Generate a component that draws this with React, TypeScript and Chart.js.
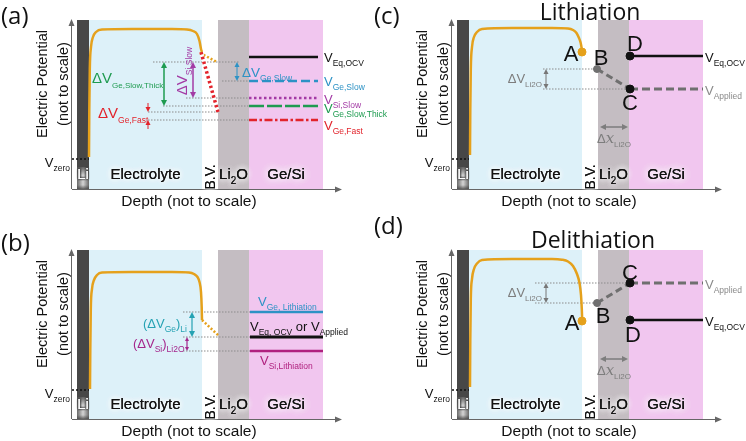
import React, { useEffect, useRef } from 'react';
import { Chart, registerables } from 'chart.js';
Chart.register(...registerables);

const SANS = '"Liberation Sans", Arial, Helvetica, sans-serif';
const OPEN = '"Open Sans", "Liberation Sans", sans-serif';
const ORANGE = '#e5a11c';
const REF = '#8c8c8c';
const BLACK = '#111111';
const GREEN = '#1e9b50';
const BLUE = '#2d92c5';
const PURPLE = '#a33ba5';
const RED = '#e2232b';
const TEAL = '#25a2b3';
const MAGENTA = '#a4268c';

// ---- layers (depth units) ----
const layerLabels = ['Li', 'Electrolyte', 'B.V.', 'Li2O', 'Ge/Si'];
const layerEdges = [5, 17, 130, 146, 177, 251];
const layerColors = ['#474747', '#ddf1f9', '#ffffff', '#c4bdc2', '#f1c6ef'];
const X_MAX = 270;
const Y_MAX = 169;
const vZero = [30, 29, 30, 29];

// ---- orange potential curves ----
const curveAX = [17, 17.3, 17.8, 19, 21, 24, 30, 60, 100, 115, 121, 125, 127.5, 129, 130];
const curveAY = [32, 80, 120, 142, 152, 157, 159.5, 160, 160, 159.5, 158, 155, 148, 140, 137];
const curveBX = [18, 18.3, 18.8, 20, 22, 25, 30, 60, 100, 117, 122, 125.5, 127.5, 129, 129.7, 130];
const curveBY = [30, 70, 110, 130, 139, 144, 146.5, 147, 147, 146.5, 145, 142, 137, 127, 112, 99];
const curveCX = [18, 18.3, 18.8, 20, 22, 25, 30, 60, 100, 116, 121, 124.5, 127, 128.7, 129.6, 130];
const curveCY = [34, 80, 120, 142, 152, 157, 160, 161, 161, 160.5, 159, 156, 151, 146, 141, 137];
const curveDX = [18, 18.3, 18.8, 20, 22, 25, 30, 60, 100, 110, 116, 121, 125, 127.5, 129, 129.8, 130.2];
const curveDY = [32, 80, 120, 140, 150, 155.5, 159, 160, 160, 159.3, 157.5, 153, 145, 136, 124, 110, 99];

// ---- panel (a) ----
const aLevelNames = ['Eq,OCV', 'Ge,Slow', 'Si,Slow', 'Ge,Slow,Thick', 'Ge,Fast'];
const aLevelValues = [132, 108, 91, 83, 69];
const aLevelSpan = [177, 246];
const aRefValues = [127, 108, 91, 83, 77, 69];
const aRefStart = [81, 150, 114, 91, 76, 76];
const aRefEnd = [168, 177, 177, 177, 146, 177];
const aOrangeX = [128, 145];
const aOrangeY = [136, 127];
const aRedX = [129, 146];
const aRedY = [137, 77];
const aGapX = [92, 121, 165];
const aGapTop = [127, 127, 127];
const aGapBottom = [83, 91, 108];
const aFastX = 76;
const aFastTop = 77;
const aFastBottom = 69;

// ---- panel (b) ----
const bLevelNames = ['Ge, Lithiation', 'Eq, OCV', 'Si,Lithiation'];
const bLevelValues = [107, 82, 68];
const bLevelSpan = [178, 251];
const bRefStart = 111;
const bOrangeX = [130, 147];
const bOrangeY = [99, 83];
const bGapX = [120, 115];
const bGapTop = [107, 82];
const bGapBottom = [82, 68];

// ---- panels (c) and (d) ----
const pointNames = ['A', 'B', 'C', 'D'];
const cPointX = [130, 145, 178, 178];
const cPointY = [137, 120, 100, 133];
const dPointX = [130, 145, 178, 178];
const dPointY = [98, 116, 136, 99];
const levelSpanCD = [178, 251];
const refStartC = 91;
const refStartD = 83;
const dvArrowX = 94;
const dxSpan = [148, 176];
const dxLevelC = 62;
const dxLevelD = 60;

type Seg = [string, number];
type Opts = { sub?: number; glow?: number; glowColor?: string; family?: string };

function rich(ctx: CanvasRenderingContext2D, segs: Seg[], x: number, y: number, size: number, color: string, align: 'left' | 'center' | 'right' = 'left', o: Opts = {}) {
  const sub = o.sub ?? Math.round(size * 0.62);
  const fam = o.family ?? SANS;
  const font = (k: number) => (k === 1 ? `${sub}px ${fam}` : k === 2 ? `italic ${size * 1.15}px "DejaVu Serif", "Liberation Serif", serif` : `${size}px ${fam}`);
  ctx.save();
  const w = segs.map(([t, k]) => { ctx.font = font(k); return ctx.measureText(t).width; });
  const total = w.reduce((a, b) => a + b, 0);
  let cx = align === 'left' ? x : align === 'center' ? x - total / 2 : x - total;
  const base = y + size * 0.36;
  ctx.fillStyle = color;
  ctx.textAlign = 'left';
  ctx.textBaseline = 'alphabetic';
  const passes = o.glow ? 3 : 1;
  if (o.glow) { ctx.shadowColor = o.glowColor ?? '#ffffff'; ctx.shadowBlur = o.glow; }
  segs.forEach(([t, k], i) => {
    ctx.font = font(k);
    const dy = k === 1 ? size * 0.32 : 0;
    for (let p = 0; p < passes; p++) ctx.fillText(t, cx, base + dy);
    cx += w[i];
  });
  ctx.restore();
}

function richRot(ctx: CanvasRenderingContext2D, segs: Seg[], x: number, y: number, size: number, color: string, o: Opts = {}) {
  ctx.save();
  ctx.translate(x, y);
  ctx.rotate(-Math.PI / 2);
  rich(ctx, segs, 0, 0, size, color, 'center', o);
  ctx.restore();
}

function arrow(ctx: CanvasRenderingContext2D, x1: number, y1: number, x2: number, y2: number, color: string, lw: number, head: number, both = true) {
  ctx.save();
  ctx.strokeStyle = color;
  ctx.fillStyle = color;
  ctx.lineWidth = lw;
  const a = Math.atan2(y2 - y1, x2 - x1);
  const c = Math.cos(a), s = Math.sin(a);
  ctx.beginPath();
  ctx.moveTo(x1 + (both ? c * head * 0.7 : 0), y1 + (both ? s * head * 0.7 : 0));
  ctx.lineTo(x2 - c * head * 0.7, y2 - s * head * 0.7);
  ctx.stroke();
  const tri = (x: number, y: number, cc: number, ss: number) => {
    ctx.beginPath();
    ctx.moveTo(x, y);
    ctx.lineTo(x - head * cc + head * 0.5 * ss, y - head * ss - head * 0.5 * cc);
    ctx.lineTo(x - head * cc - head * 0.5 * ss, y - head * ss + head * 0.5 * cc);
    ctx.closePath();
    ctx.fill();
  };
  tri(x2, y2, c, s);
  if (both) tri(x1, y1, -c, -s);
  ctx.restore();
}

const line = (xs: number[], ys: number[], color: string, width: number, dash: number[] = []) => ({
  data: xs.map((x, i) => ({ x, y: ys[i] })),
  borderColor: color,
  backgroundColor: color,
  borderWidth: width,
  borderDash: dash,
  borderCapStyle: 'butt',
  pointRadius: 0,
  fill: false,
  tension: 0,
});
const curve = (xs: number[], ys: number[]) => ({ ...line(xs, ys, ORANGE, 2.5), cubicInterpolationMode: 'monotone' });
const dot = (x: number, y: number, color: string, r: number) => ({
  data: [{ x, y }],
  showLine: false,
  pointRadius: r,
  pointBackgroundColor: color,
  pointBorderColor: color,
  borderColor: color,
  backgroundColor: color,
});

type XY = (v: number) => number;
interface Spec {
  left: number; top: number; w: number; h: number;
  pad: { left: number; top: number; right: number; bottom: number };
  letter: string; letterY: number;
  title?: string; titleX?: number; titleY?: number;
  vzero: number;
  datasets: any[];
  draw: (ctx: CanvasRenderingContext2D, X: XY, Y: XY) => void;
}

const vLabel = (ctx: CanvasRenderingContext2D, sub: string, x: number, y: number, color: string) =>
  rich(ctx, [['V', 0], [sub, 1]], x, y, 13, color, 'left', { sub: 8.5 });

function specA(): Spec {
  const ds: any[] = [];
  aRefValues.forEach((v, i) => ds.push(line([aRefStart[i], aRefEnd[i]], [v, v], REF, 1.2, [1.5, 1.5])));
  ds.push(line(aOrangeX, aOrangeY, ORANGE, 2.5, [2, 2]));
  ds.push(line(aRedX, aRedY, '#ffffff', 3.5));
  ds.push(line(aRedX, aRedY, RED, 3.5, [2.5, 2.5]));
  ds.push(curve(curveAX, curveAY));
  const cols = [BLACK, BLUE, PURPLE, GREEN, RED];
  const dashes = [[], [9, 4], [2.5, 2.5], [15, 3], [8, 2.5, 2.5, 2.5]];
  aLevelValues.forEach((v, i) => ds.push(line(aLevelSpan, [v, v], cols[i], 2.5, dashes[i])));
  ds.push(line([0, layerEdges[1]], [vZero[0], vZero[0]], BLACK, 1.5, [2, 2]));
  const labelY = [132, 108, 90, 81, 64];
  return {
    left: 0, top: 0, w: 420, h: 220,
    pad: { left: 72, top: 20, right: 78, bottom: 31 },
    letter: '(a)', letterY: 15, vzero: vZero[0], datasets: ds,
    draw: (ctx, X, Y) => {
      aLevelNames.forEach((n, i) => vLabel(ctx, n, X(252), Y(labelY[i]), cols[i]));
      const gc = [GREEN, PURPLE, BLUE];
      aGapX.forEach((x, i) => arrow(ctx, X(x), Y(aGapTop[i]), X(x), Y(aGapBottom[i]), gc[i], i === 2 ? 1 : 1.5, i === 2 ? 5 : 6));
      arrow(ctx, X(aFastX), Y(aFastTop + 9), X(aFastX), Y(aFastTop), RED, 1, 5, false);
      arrow(ctx, X(aFastX), Y(aFastBottom - 9), X(aFastX), Y(aFastBottom), RED, 1, 5, false);
      rich(ctx, [['ΔV', 0], ['Ge,Slow,Thick', 1]], X(20), Y(111), 15, GREEN, 'left', { sub: 8 });
      rich(ctx, [['ΔV', 0], ['Ge,Fast', 1]], X(26), Y(76), 15, RED, 'left', { sub: 8.5 });
      richRot(ctx, [['ΔV', 0], ['Si,Slow', 1]], X(110), Y(118), 15, PURPLE, { sub: 8.5 });
      rich(ctx, [['ΔV', 0], ['Ge,Slow', 1]], X(170), Y(117), 13.5, BLUE, 'left', { sub: 8.5 });
    },
  };
}

function specB(): Spec {
  const ds: any[] = [];
  bLevelValues.forEach((v) => ds.push(line([bRefStart, bLevelSpan[0]], [v, v], REF, 1.2, [1.5, 1.5])));
  ds.push(line(bOrangeX, bOrangeY, ORANGE, 2.5, [2, 2]));
  ds.push(curve(curveBX, curveBY));
  const cols = [BLUE, BLACK, '#b0217f'];
  bLevelValues.forEach((v, i) => ds.push(line(bLevelSpan, [v, v], cols[i], i === 1 ? 3 : 2.5)));
  ds.push(line([0, layerEdges[1]], [vZero[1], vZero[1]], BLACK, 1.5, [2, 2]));
  return {
    left: 0, top: 220, w: 420, h: 221,
    pad: { left: 72, top: 30, right: 78, bottom: 22 },
    letter: '(b)', letterY: 22, vzero: vZero[1], datasets: ds,
    draw: (ctx, X, Y) => {
      rich(ctx, [['V', 0], [bLevelNames[0], 1]], X(186), Y(117.5), 13, BLUE, 'left', { sub: 8.5 });
      rich(ctx, [['V', 0], [bLevelNames[1], 1], [' or ', 0], ['V', 0], ['Applied', 1]], X(178), Y(93), 13, BLACK, 'left', { sub: 8.5 });
      rich(ctx, [['V', 0], [bLevelNames[2], 1]], X(188), Y(59), 13, '#b0217f', 'left', { sub: 8.5 });
      rich(ctx, [['(ΔV', 0], ['Ge', 1], [')', 0], ['Li', 1]], X(71), Y(96), 13, TEAL, 'left', { sub: 8.5 });
      rich(ctx, [['(ΔV', 0], ['Si', 1], [')', 0], ['Li2O', 1]], X(61), Y(76), 13, MAGENTA, 'left', { sub: 8.5 });
      arrow(ctx, X(bGapX[0]), Y(bGapTop[0]), X(bGapX[0]), Y(bGapBottom[0]), TEAL, 1.2, 6);
      arrow(ctx, X(bGapX[1]), Y(bGapTop[1]), X(bGapX[1]), Y(bGapBottom[1]), MAGENTA, 1.2, 4);
    },
  };
}

function specCD(which: 'c' | 'd'): Spec {
  const isC = which === 'c';
  const px = isC ? cPointX : dPointX;
  const py = isC ? cPointY : dPointY;
  const vz = isC ? vZero[2] : vZero[3];
  const applied = py[2];
  const eq = py[3];
  const refStart = isC ? refStartC : refStartD;
  const ds: any[] = [];
  ds.push(line([refStart, px[1]], [py[1], py[1]], REF, 1.2, [1.5, 1.5]));
  ds.push(line([refStart, px[2]], [applied, applied], REF, 1.2, [1.5, 1.5]));
  ds.push(curve(isC ? curveCX : curveDX, isC ? curveCY : curveDY));
  ds.push(line([px[1], px[2]], [py[1], py[2]], '#6f6f6f', 3, [7, 4]));
  ds.push(line(levelSpanCD, [applied, applied], '#6f6f6f', 3, [8, 4]));
  ds.push(line(levelSpanCD, [eq, eq], BLACK, 2.5));
  ds.push(dot(px[0], py[0], ORANGE, 4));
  ds.push(dot(px[1], py[1], '#6f6f6f', 3.5));
  ds.push(dot(px[2], py[2], BLACK, 4));
  ds.push(dot(px[3], py[3], BLACK, 4));
  ds.push(line([0, layerEdges[1]], [vz, vz], BLACK, 1.5, [2, 2]));
  const labelPos = isC
    ? [[119, 136], [149, 132], [178, 87], [183, 146]]
    : [[120, 97], [151, 104], [178, 147], [181, 85]];
  const dvTextY = isC ? 111 : 127;
  const dxY = isC ? dxLevelC : dxLevelD;
  return {
    left: 373, top: isC ? 0 : 210, w: 373, h: isC ? 220 : 231,
    pad: { left: 79, top: isC ? 20 : 40, right: 24, bottom: isC ? 31 : 22 },
    letter: isC ? '(c)' : '(d)', letterY: 15,
    title: isC ? 'Lithiation' : 'Delithiation', titleX: isC ? 217 : 220, titleY: isC ? 12 : 30,
    vzero: vz, datasets: ds,
    draw: (ctx, X, Y) => {
      pointNames.forEach((n, i) => rich(ctx, [[n, 0]], X(labelPos[i][0]), Y(labelPos[i][1]), 22, BLACK, 'center'));
      vLabel(ctx, 'Eq,OCV', X(253), Y(eq - 1), BLACK);
      vLabel(ctx, 'Applied', X(253), Y(applied - 1), '#8a8a8a');
      arrow(ctx, X(dvArrowX), Y(py[1]), X(dvArrowX), Y(applied), '#777777', 1, 5);
      rich(ctx, [['ΔV', 0], ['Li2O', 1]], X(90), Y(dvTextY), 13, '#7d7d7d', 'right', { sub: 8 });
      arrow(ctx, X(dxSpan[0]), Y(dxY), X(dxSpan[1]), Y(dxY), '#7d7d7d', 1.5, 6);
      rich(ctx, [['Δ', 0], ['x', 2], ['Li2O', 1]], X(162), Y(dxY - 11), 13, '#7d7d7d', 'center', { sub: 8 });
    },
  };
}

const SPECS: Spec[] = [specA(), specB(), specCD('c'), specCD('d')];

function build(canvas: HTMLCanvasElement, spec: Spec) {
  const scene = {
    id: 'scene',
    beforeDatasetsDraw(chart: any) {
      const { ctx } = chart;
      const X: XY = (v) => chart.scales.x.getPixelForValue(v);
      const Y: XY = (v) => chart.scales.y.getPixelForValue(v);
      ctx.save();
      for (let i = 0; i < layerLabels.length; i++) {
        ctx.fillStyle = layerColors[i];
        ctx.fillRect(X(layerEdges[i]), Y(Y_MAX), X(layerEdges[i + 1]) - X(layerEdges[i]), Y(0) - Y(Y_MAX));
      }
      // lighter cylindrical shading at the bottom of the Li electrode
      const lx0 = X(layerEdges[0]), lx1 = X(layerEdges[1]);
      const hg = ctx.createLinearGradient(lx0, 0, lx1, 0);
      hg.addColorStop(0, '#6a6a6a');
      hg.addColorStop(0.5, '#d4d4d4');
      hg.addColorStop(1, '#6a6a6a');
      ctx.fillStyle = hg;
      ctx.fillRect(lx0, Y(22), lx1 - lx0, Y(0) - Y(22));
      const vg = ctx.createLinearGradient(0, Y(24), 0, Y(14));
      vg.addColorStop(0, 'rgba(71,71,71,1)');
      vg.addColorStop(1, 'rgba(71,71,71,0)');
      ctx.fillStyle = vg;
      ctx.fillRect(lx0, Y(24), lx1 - lx0, Y(14) - Y(24));
      const bg = ctx.createLinearGradient(0, Y(4), 0, Y(0));
      bg.addColorStop(0, 'rgba(71,71,71,0)');
      bg.addColorStop(1, 'rgba(71,71,71,0.8)');
      ctx.fillStyle = bg;
      ctx.fillRect(lx0, Y(4), lx1 - lx0, Y(0) - Y(4));
      // axes
      ctx.strokeStyle = '#666';
      ctx.fillStyle = '#666';
      ctx.lineWidth = 1;
      ctx.beginPath();
      ctx.moveTo(X(0), Y(0) + 0.5);
      ctx.lineTo(X(X_MAX) - 4, Y(0) + 0.5);
      ctx.moveTo(X(0) - 0.5, Y(0));
      ctx.lineTo(X(0) - 0.5, Y(Y_MAX) + 4);
      ctx.stroke();
      ctx.beginPath();
      ctx.moveTo(X(X_MAX), Y(0) + 0.5);
      ctx.lineTo(X(X_MAX) - 7, Y(0) - 2.5);
      ctx.lineTo(X(X_MAX) - 7, Y(0) + 3.5);
      ctx.closePath();
      ctx.fill();
      ctx.beginPath();
      ctx.moveTo(X(0) - 0.5, Y(Y_MAX) - 1);
      ctx.lineTo(X(0) - 3.5, Y(Y_MAX) + 6);
      ctx.lineTo(X(0) + 2.5, Y(Y_MAX) + 6);
      ctx.closePath();
      ctx.fill();
      ctx.restore();
    },
    afterDatasetsDraw(chart: any) {
      const { ctx, chartArea: a } = chart;
      const X: XY = (v) => chart.scales.x.getPixelForValue(v);
      const Y: XY = (v) => chart.scales.y.getPixelForValue(v);
      // layer labels
      const mid = (i: number) => (layerEdges[i] + layerEdges[i + 1]) / 2;
      rich(ctx, [['Li', 0]], X(mid(0)), Y(15), 15, '#ffffff', 'center', { glow: 2, glowColor: '#333333' });
      rich(ctx, [['Electrolyte', 0]], X(mid(1)), Y(15), 15, BLACK, 'center', { glow: 6 });
      richRot(ctx, [['B.V.', 0]], X(mid(2)), Y(12), 14, BLACK, { glow: 4 });
      rich(ctx, [['Li', 0], ['2', 1], ['O', 0]], X(mid(3)), Y(15), 15, BLACK, 'center', { glow: 6, sub: 10 });
      rich(ctx, [['Ge/Si', 0]], X(mid(4)), Y(15), 15, BLACK, 'center', { glow: 8 });
      // axis titles
      richRot(ctx, [['Electric Potential', 0]], a.left - 30, Y(105), 14.5, BLACK);
      richRot(ctx, [['(not to scale)', 0]], a.left - 9, Y(105), 14.5, BLACK);
      rich(ctx, [['Depth (not to scale)', 0]], X(117), a.bottom + 11, 15.5, BLACK, 'center');
      // V zero
      rich(ctx, [['V', 0], ['zero', 1]], X(-2), Y(spec.vzero - 3.5), 13, BLACK, 'right', { sub: 8.5 });
      // panel letter and title
      rich(ctx, [[spec.letter, 0]], 1, spec.letterY, 24, BLACK, 'left', { family: OPEN });
      if (spec.title) rich(ctx, [[spec.title, 0]], spec.titleX!, spec.titleY!, 23, BLACK, 'center', { family: OPEN });
      spec.draw(ctx, X, Y);
    },
  };
  const datasets = spec.datasets.map((d, i) => ({ ...d, order: spec.datasets.length - i }));
  return new Chart(canvas, {
    type: 'line',
    data: { datasets },
    options: {
      animation: false,
      responsive: false,
      devicePixelRatio: 1,
      events: [],
      layout: { padding: spec.pad },
      scales: {
        x: { type: 'linear', min: 0, max: X_MAX, display: false },
        y: { type: 'linear', min: 0, max: Y_MAX, display: false },
      },
      plugins: { legend: { display: false }, tooltip: { enabled: false } },
    },
    plugins: [scene],
  } as any);
}

export default function App() {
  const refs = useRef<(HTMLCanvasElement | null)[]>([]);
  useEffect(() => {
    const charts = SPECS.map((s, i) => build(refs.current[i]!, s));
    return () => charts.forEach((c) => c.destroy());
  }, []);
  return (
    <div style={{ position: 'fixed', left: 0, top: 0, width: 746, height: 441, background: '#fff', overflow: 'hidden' }}>
      {SPECS.map((s, i) => (
        <canvas
          key={i}
          ref={(el) => { refs.current[i] = el; }}
          width={s.w}
          height={s.h}
          style={{ position: 'absolute', left: s.left, top: s.top, width: s.w, height: s.h }}
        />
      ))}
    </div>
  );
}
